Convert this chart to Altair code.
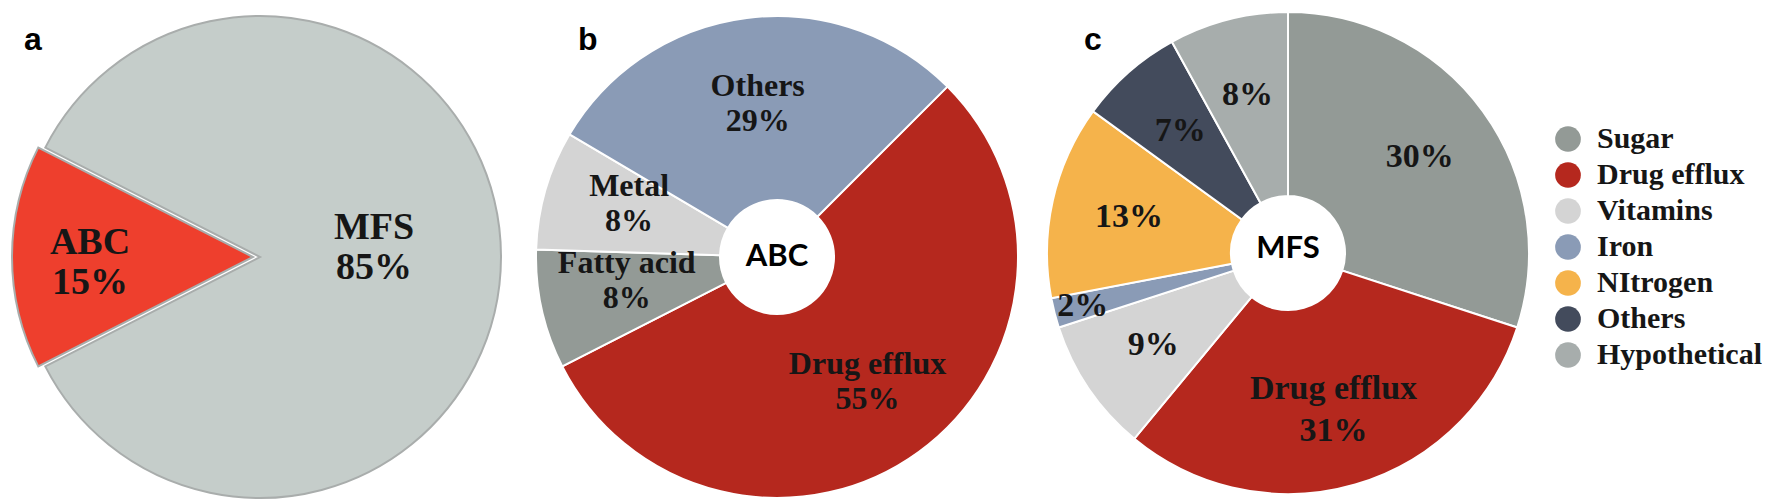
import math
import altair as alt
import pandas as pd

# ---------------- data ----------------
a_cats = ["MFS", "ABC"]
a_vals = [85, 15]
a_colors = ["#c5cdca", "#ee3f2d"]
a_exploded = ["ABC"]

b_cats = ["Drug efflux", "Fatty acid", "Metal", "Others"]
b_vals = [55, 8, 8, 29]
b_colors = ["#b5281e", "#939a96", "#d4d4d4", "#8a9bb6"]
b_raised = ["Metal", "Fatty acid"]

c_cats = ["Sugar", "Drug efflux", "Vitamins", "Iron", "NItrogen", "Others", "Hypothetical"]
c_vals = [30, 31, 9, 2, 13, 7, 8]
c_colors = ["#939a96", "#b5281e", "#d4d4d4", "#8a9bb6", "#f5b34b", "#434b5c", "#a7adac"]
c_named = ["Drug efflux"]
c_outside = ["Iron"]

panel_letters = ["a", "b", "c"]
hole_labels = ["ABC", "MFS"]

SERIF = "Liberation Serif"
TXT = "#161616"
R = 241


def frame(cats, vals, named=None):
    rows = []
    for i, (c, v) in enumerate(zip(cats, vals)):
        show = named is None or c in named
        rows.append({"cat": c, "val": v, "ord": i,
                     "label": f"{c}\n{v}%" if show else f"{v}%"})
    return pd.DataFrame(rows)


def theta(start_deg):
    s = math.radians(start_deg)
    return alt.Theta("val:Q", stack=True, scale=alt.Scale(range=[s, s + 2 * math.pi]))


def letter(ch, x):
    return alt.Chart(pd.DataFrame({"t": [ch]})).mark_text(
        align="left", baseline="alphabetic", font="Liberation Sans",
        fontWeight="bold", fontSize=32, color="#000"
    ).encode(x=alt.value(x), y=alt.value(35), text="t:N")


def hole_text(label, yoff=0):
    return alt.Chart(pd.DataFrame({"t": [label]})).mark_text(
        font="Lato", fontWeight="bold", fontSize=31, color="#000", yOffset=yoff
    ).encode(text="t:N")


def show_if(pred, yes=True):
    if yes:
        return alt.condition(pred, alt.Text("label:N"), alt.value(""))
    return alt.condition(pred, alt.value(""), alt.Text("label:N"))


# ---------------- panel a ----------------
da = frame(a_cats, a_vals)
col_a = alt.Color("cat:N", scale=alt.Scale(domain=a_cats, range=a_colors), legend=None)
is_exp = alt.FieldOneOfPredicate(field="cat", oneOf=a_exploded)
base_a = alt.Chart(da).encode(theta=theta(297), order=alt.Order("ord:Q"))
arc_a1 = base_a.mark_arc(radius=R, stroke="#a9adac", strokeWidth=2).encode(
    color=col_a, opacity=alt.condition(is_exp, alt.value(0), alt.value(1)))
arc_a2 = base_a.mark_arc(radius=R, stroke="#a9adac", strokeWidth=2, xOffset=-7).encode(
    color=col_a, opacity=alt.condition(is_exp, alt.value(1), alt.value(0)))
txt_a1 = base_a.mark_text(radius=114, yOffset=-29, font=SERIF, fontWeight="bold", fontSize=38,
                          lineBreak="\n", lineHeight=40, color=TXT).encode(
    detail="cat:N", text=show_if(is_exp, False))
txt_a2 = base_a.mark_text(radius=163, xOffset=-7, yOffset=-14, font=SERIF, fontWeight="bold",
                          fontSize=38, lineBreak="\n", lineHeight=40, color=TXT).encode(
    detail="cat:N", text=show_if(is_exp, True))
pa = alt.layer(arc_a1, arc_a2, txt_a1, txt_a2, letter(panel_letters[0], 15)).properties(
    width=502, height=484)

# ---------------- panel b ----------------
db = frame(b_cats, b_vals)
col_b = alt.Color("cat:N", scale=alt.Scale(domain=b_cats, range=b_colors), legend=None)
is_raised = alt.FieldOneOfPredicate(field="cat", oneOf=b_raised)
base_b = alt.Chart(db).encode(theta=theta(45), order=alt.Order("ord:Q"))
arc_b = base_b.mark_arc(radius=R, innerRadius=57, stroke="white", strokeWidth=2).encode(color=col_b)
txt_b_style = dict(font=SERIF, fontWeight="bold", fontSize=32, lineBreak="\n", lineHeight=35, color=TXT)
txt_b1 = base_b.mark_text(radius=154, yOffset=-18, **txt_b_style).encode(
    detail="cat:N", text=show_if(is_raised, False))
txt_b2 = base_b.mark_text(radius=154, yOffset=-28, **txt_b_style).encode(
    detail="cat:N", text=show_if(is_raised, True))
pb = alt.layer(arc_b, txt_b1, txt_b2, hole_text(hole_labels[0]), letter(panel_letters[1], 67)).properties(
    width=532, height=484)

# ---------------- panel c ----------------
dc = frame(c_cats, c_vals, c_named)
col_c = alt.Color(
    "cat:N", scale=alt.Scale(domain=c_cats, range=c_colors),
    legend=alt.Legend(
        title=None, orient="none", legendX=507, legendY=109, symbolType="circle",
        symbolSize=660, symbolStrokeWidth=0, symbolOpacity=1, labelFont=SERIF,
        labelFontWeight="bold", labelFontSize=30, labelColor=TXT, labelOffset=14,
        rowPadding=6, padding=0, labelLimit=400))
is_out = alt.FieldOneOfPredicate(field="cat", oneOf=c_outside)
is_named = alt.FieldOneOfPredicate(field="cat", oneOf=c_named)
is_plain = alt.FieldOneOfPredicate(
    field="cat", oneOf=[c for c in c_cats if c not in c_outside and c not in c_named])
base_c = alt.Chart(dc).encode(theta=theta(0), order=alt.Order("ord:Q"))
arc_c = base_c.mark_arc(radius=R, innerRadius=57, stroke="white", strokeWidth=2, yOffset=-4).encode(color=col_c)
txt_style = dict(font=SERIF, fontWeight="bold", fontSize=34, lineBreak="\n", lineHeight=42, color=TXT)
txt_c1 = base_c.mark_text(radius=163, yOffset=-4, **txt_style).encode(
    detail="cat:N", text=show_if(is_plain))
txt_c2 = base_c.mark_text(radius=163, yOffset=-25, **txt_style).encode(
    detail="cat:N", text=show_if(is_named))
txt_c3 = base_c.mark_text(radius=212, yOffset=-4, **txt_style).encode(
    detail="cat:N", text=show_if(is_out))
pc = alt.layer(arc_c, txt_c1, txt_c2, txt_c3, hole_text(hole_labels[1], -8),
               letter(panel_letters[2], 38)).properties(width=484, height=484)

chart = alt.hconcat(pa, pb, pc, spacing=0).resolve_scale(
    color="independent", theta="independent").properties(padding=0).configure_view(stroke=None)

chart.save("out.html", embed_options={"renderer": "svg", "actions": False})
